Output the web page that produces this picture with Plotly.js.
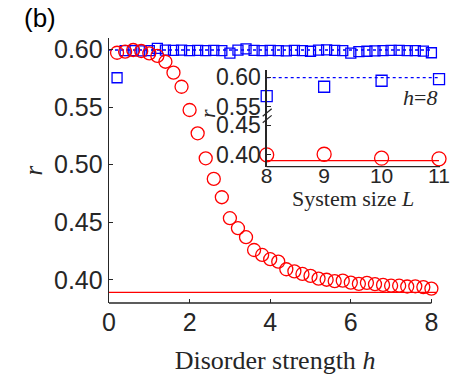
<!DOCTYPE html>
<html>
<head>
<meta charset="utf-8">
<script src="https://cdn.plot.ly/plotly-3.0.1.min.js"></script>
<style>html,body{margin:0;padding:0;background:#fff;}#chart{width:460px;height:375px;}</style>
</head>
<body>
<div id="chart"></div>
<script>
// Main panel: disorder strength h
const hValues = [0.2,0.4,0.6,0.8,1.0,1.2,1.4,1.6,1.8,2.0,2.2,2.4,2.6,2.8,3.0,3.2,3.4,3.6,3.8,4.0,
                 4.2,4.4,4.6,4.8,5.0,5.2,5.4,5.6,5.8,6.0,6.2,6.4,6.6,6.8,7.0,7.2,7.4,7.6,7.8,8.0];
const rSquares = [0.5755,0.5990,0.5990,0.5988,0.5990,0.6010,0.5995,0.5992,0.5995,0.5990,
                  0.5992,0.5990,0.5993,0.5990,0.5968,0.5995,0.6005,0.5992,0.5990,0.5993,
                  0.5990,0.5988,0.5992,0.5990,0.5985,0.5995,0.5997,0.5992,0.5990,0.5968,
                  0.5982,0.5985,0.5988,0.5990,0.5992,0.5992,0.5990,0.5990,0.5986,0.5972];
const rCircles = [0.5972,0.5981,0.5996,0.5987,0.5967,0.5944,0.5894,0.5799,0.5677,0.5475,
                  0.5273,0.5056,0.4877,0.4718,0.4536,0.4449,0.4371,0.4260,0.4217,0.4180,
                  0.4159,0.4093,0.4075,0.4052,0.4035,0.4012,0.4002,0.3990,0.3994,0.3977,
                  0.3966,0.3975,0.3963,0.3957,0.3950,0.3950,0.3943,0.3945,0.3938,0.3925];
const gueLineX = [0, 8.0];
const gueLineY = [0.5996, 0.5996];
const poissonLineX = [0, 8.13];
const poissonLineY = [0.3893, 0.3893];
const mainXTicks = [0, 2, 4, 6, 8];
const mainYTicks = [0.40, 0.45, 0.50, 0.55, 0.60];
const mainYTickText = ['0.40', '0.45', '0.50', '0.55', '0.60'];

// Inset: system size L at h = 8
const sizeL = [8, 9, 10, 11];
const insetSquares = [0.568, 0.5839, 0.5942, 0.5971];
const insetCircles = [0.400, 0.401, 0.3944, 0.3932];
const insetGueY = [0.5996, 0.5996];
const insetPoissonY = [0.3903, 0.3903];
const insetLineX = [8, 11];
const insetUpperTicks = [0.55, 0.60];
const insetUpperText = ['0.55', '0.60'];
const insetLowerTicks = [0.40, 0.45];
const insetLowerText = ['0.40', '0.45'];

const BLUE = '#0000ff', RED = '#ff0000', INK = '#262626';
const SANS = 'Liberation Sans, Arial, sans-serif';
const SERIF = 'Liberation Serif, Times New Roman, serif';

const traces = [
  {x: poissonLineX, y: poissonLineY, mode: 'lines', line: {color: RED, width: 1.3}, xaxis: 'x', yaxis: 'y', cliponaxis: false},
  {x: gueLineX, y: gueLineY, mode: 'lines', line: {color: BLUE, width: 1.3, dash: 'dot'}, xaxis: 'x', yaxis: 'y', cliponaxis: false},
  {x: hValues, y: rSquares, mode: 'markers', marker: {symbol: 'square-open', size: 10, color: BLUE, line: {width: 1.3}}, xaxis: 'x', yaxis: 'y', cliponaxis: false},
  {x: hValues, y: rCircles, mode: 'markers', marker: {symbol: 'circle-open', size: 13, color: RED, line: {width: 1.3}}, xaxis: 'x', yaxis: 'y', cliponaxis: false},
  {x: insetLineX, y: insetGueY, mode: 'lines', line: {color: BLUE, width: 1.3, dash: 'dot'}, xaxis: 'x2', yaxis: 'y2', cliponaxis: false},
  {x: sizeL, y: insetSquares, mode: 'markers', marker: {symbol: 'square-open', size: 11, color: BLUE, line: {width: 1.3}}, xaxis: 'x2', yaxis: 'y2', cliponaxis: false},
  {x: insetLineX, y: insetPoissonY, mode: 'lines', line: {color: RED, width: 1.3}, xaxis: 'x2', yaxis: 'y3', cliponaxis: false},
  {x: sizeL, y: insetCircles, mode: 'markers', marker: {symbol: 'circle-open', size: 14, color: RED, line: {width: 1.3}}, xaxis: 'x2', yaxis: 'y3', cliponaxis: false}
];

const axisCommon = {
  ticks: 'inside', ticklen: 4, tickwidth: 1, tickcolor: INK,
  showgrid: false, zeroline: false, linecolor: INK, linewidth: 1.3,
  fixedrange: true
};

const layout = {
  width: 460, height: 375,
  margin: {l: 109, r: 19, t: 38, b: 72},
  paper_bgcolor: '#ffffff', plot_bgcolor: 'rgba(0,0,0,0)',
  showlegend: false,
  font: {family: SANS, color: INK},
  xaxis: Object.assign({}, axisCommon, {
    domain: [0, 1], range: [0, 8.238], anchor: 'y',
    tickvals: mainXTicks, showline: false, ticklabelstandoff: 2,
    tickfont: {family: SANS, size: 25, color: INK},
    title: {text: 'Disorder strength <i>h</i>', font: {family: SERIF, size: 26, color: INK}, standoff: 18}
  }),
  yaxis: Object.assign({}, axisCommon, {
    domain: [0, 1], range: [0.38, 0.61], anchor: 'x',
    tickvals: mainYTicks, ticktext: mainYTickText, showline: true,
    tickfont: {family: SANS, size: 25, color: INK},
    title: {text: '<i>r</i>', font: {family: SERIF, size: 25, color: INK}, standoff: 4}
  }),
  xaxis2: Object.assign({}, axisCommon, {
    domain: [0.475, 0.997], range: [8, 11.017], anchor: 'free', position: 0.537,
    tickvals: sizeL, showline: false, ticks: '',
    tickfont: {family: SANS, size: 21, color: INK}
  }),
  yaxis2: Object.assign({}, axisCommon, {
    domain: [0.7019, 0.879], range: [0.5321, 0.6125], anchor: 'x2',
    tickvals: insetUpperTicks, ticktext: insetUpperText, showline: true,
    tickfont: {family: SANS, size: 23, color: INK}
  }),
  yaxis3: Object.assign({}, axisCommon, {
    domain: [0.5143, 0.7019], range: [0.380, 0.4636], anchor: 'x2',
    tickvals: insetLowerTicks, ticktext: insetLowerText, showline: true,
    tickfont: {family: SANS, size: 23, color: INK}
  }),
  shapes: [
    // main bottom spine from h = 0 to h = 8
    {type: 'line', xref: 'x', yref: 'y domain', x0: 0, x1: 8, y0: 0, y1: 0, line: {color: INK, width: 1.3}},
    // inset bottom spine
    {type: 'line', xref: 'x2 domain', yref: 'y3 domain', x0: 0, x1: 1, y0: 0, y1: 0, line: {color: INK, width: 1.3}},
    // axis break marks on the inset y axis
    {type: 'line', xref: 'paper', yref: 'paper', x0: 0.463, x1: 0.490, y0: 0.680, y1: 0.708, line: {color: INK, width: 1.2}},
    {type: 'line', xref: 'paper', yref: 'paper', x0: 0.463, x1: 0.490, y0: 0.705, y1: 0.733, line: {color: INK, width: 1.2}}
  ],
  annotations: [
    {text: '(b)', xref: 'paper', yref: 'paper', x: -0.262, y: 1.075, xanchor: 'left', yanchor: 'middle', showarrow: false,
     font: {family: SANS, size: 26, color: '#000'}},
    {text: '<i>h</i>=<i>8</i>', xref: 'paper', yref: 'paper', x: 0.994, y: 0.777, xanchor: 'right', yanchor: 'middle', showarrow: false,
     font: {family: SERIF, size: 22, color: INK}},
    {text: '<i>r</i>', xref: 'paper', yref: 'paper', x: 0.298, y: 0.717, xanchor: 'center', yanchor: 'middle', showarrow: false, textangle: -90,
     font: {family: SERIF, size: 22, color: INK}},
    {text: 'System size <i>L</i>', xref: 'paper', yref: 'paper', x: 0.736, y: 0.394, xanchor: 'center', yanchor: 'middle', showarrow: false,
     font: {family: SERIF, size: 22, color: INK}}
  ]
};

Plotly.newPlot('chart', traces, layout, {staticPlot: true, displayModeBar: false});
</script>
</body>
</html>
